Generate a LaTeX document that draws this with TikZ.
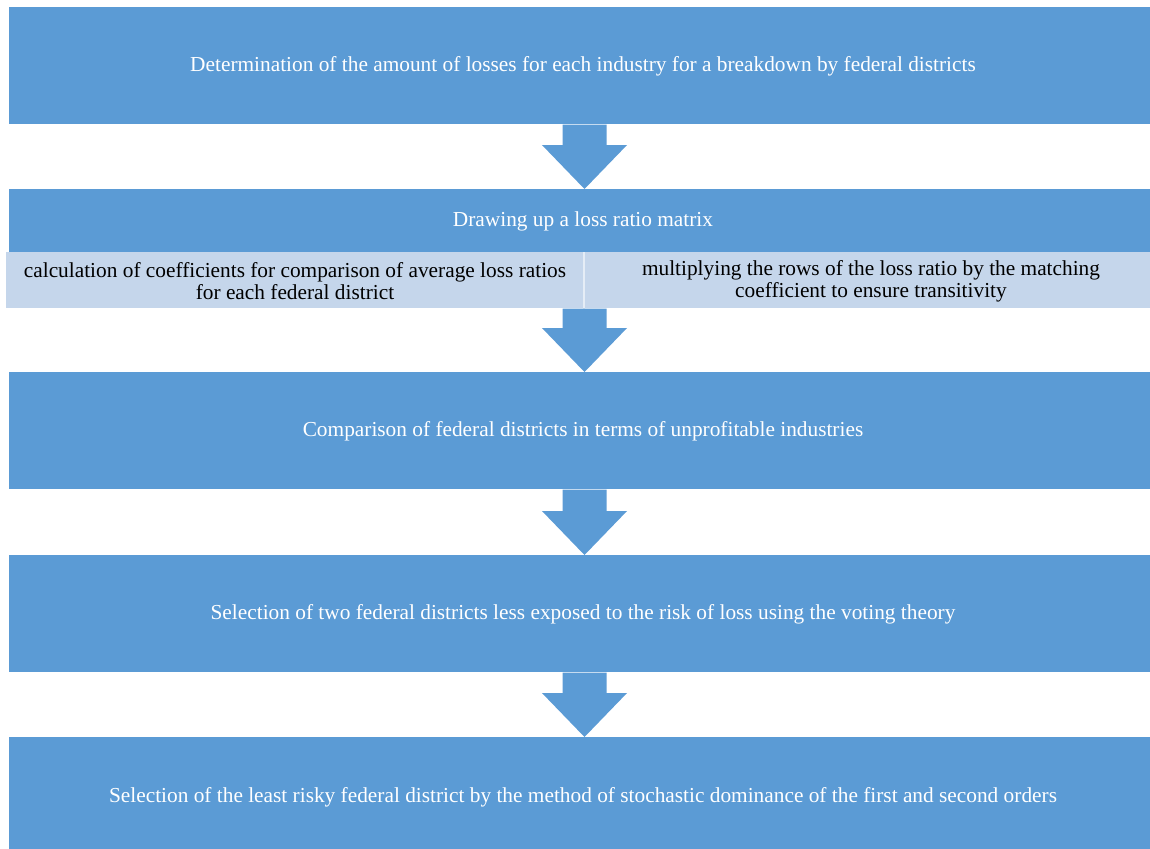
\documentclass[tikz,border=0pt]{standalone}
\usepackage{fontspec}
\setmainfont{Liberation Serif}
\usetikzlibrary{calc}
\definecolor{boxblue}{HTML}{5B9BD5}
\definecolor{sublight}{HTML}{C5D6EB}
\tikzset{
  bluebox/.style={rectangle, fill=boxblue, draw=none, anchor=north west, inner sep=0pt,
    minimum width=1141*0.75pt},
  subbox/.style={rectangle, fill=sublight, draw=none, anchor=north west, inner sep=0pt,
    minimum height=56*0.75pt},
  whitetext/.style={text=white, inner sep=0pt, font=\fontsize{16}{18}\selectfont},
  subtext/.style={text=black, inner sep=0pt, align=center, font=\fontsize{16}{16.3}\selectfont},
  divider/.style={draw=white!55!sublight, line width=1pt},
  arrowfill/.style={fill=boxblue, draw=none}
}
\newcommand\blockarrow[2]{%
  \fill[arrowfill] let \p1=(ax), \p2=(#1), \p3=(#2) in
    (\x1-16.5pt,\y2) -- (\x1+16.5pt,\y2) -- (\x1+16.5pt,\y3+33pt) -- (\x1+31.9pt,\y3+33pt)
    -- (\x1,\y3) -- (\x1-31.9pt,\y3+33pt) -- (\x1-16.5pt,\y3+33pt) -- cycle;}
\begin{document}
\begin{tikzpicture}[x=0.75pt,y=-0.75pt]
\useasboundingbox[fill=white] (0,0) rectangle (1150,849);
\coordinate (ax) at (584.5,0);
\node[bluebox, minimum height=117*0.75pt] (b1) at (9,7) {};
\node[whitetext] (t1) at (583,66) {Determination of the amount of losses for each industry for a breakdown by federal districts};
\node[bluebox, minimum height=63*0.75pt] (b2) at (9,189) {};
\node[whitetext] (t2) at (583,221) {Drawing up a loss ratio matrix};
\node[subbox, minimum width=578*0.75pt] (s1) at (6,252) {};
\node[subtext] (st1) at (295,281) {calculation of coefficients for comparison of average loss ratios\\for each federal district};
\node[subbox, minimum width=566*0.75pt] (s2) at (584,252) {};
\node[subtext] (st2) at (871,281) {multiplying the rows of the loss ratio by the matching\\coefficient to ensure transitivity};
\draw[divider] (s2.north west) -- (s2.south west);
\node[bluebox, minimum height=117*0.75pt] (b3) at (9,372) {};
\node[whitetext] (t3) at (583,431) {Comparison of federal districts in terms of unprofitable industries};
\node[bluebox, minimum height=117*0.75pt] (b4) at (9,555) {};
\node[whitetext] (t4) at (583,614) {Selection of two federal districts less exposed to the risk of loss using the voting theory};
\node[bluebox, minimum height=112*0.75pt] (b5) at (9,737) {};
\node[whitetext] (t5) at (583,797) {Selection of the least risky federal district by the method of stochastic dominance of the first and second orders};
\blockarrow{b1.south}{b2.north}
\blockarrow{s2.south west}{b3.north}
\blockarrow{b3.south}{b4.north}
\blockarrow{b4.south}{b5.north}
\end{tikzpicture}
\end{document}
